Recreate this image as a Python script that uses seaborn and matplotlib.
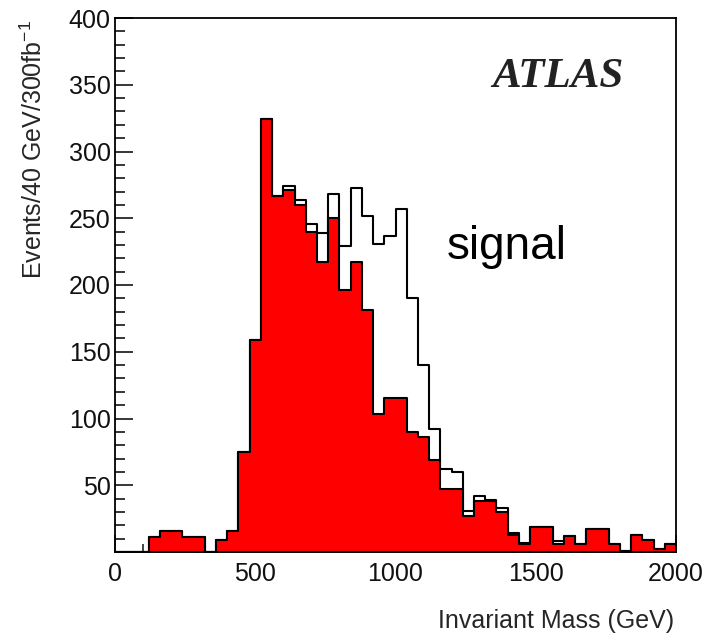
import numpy as np
import pandas as pd
import seaborn as sns
import matplotlib
matplotlib.use("Agg")
import matplotlib.pyplot as plt
from matplotlib.ticker import MultipleLocator, FixedLocator

# ---- data (events per 40 GeV bin, 0-2000 GeV) ----
bin_width = 40
x_min, x_max = 0, 2000
background = [0, 0, 0, 11, 16, 16, 11, 11, 0, 9,
              16, 75, 159, 324, 267, 271, 260, 240, 217, 250,
              196, 217, 181, 103, 115, 115, 90, 86, 69, 47,
              47, 27, 38, 38, 30, 13, 6, 19, 19, 6,
              12, 6, 17, 17, 6, 1, 13, 9, 2, 6]
total = [0, 0, 0, 11, 16, 16, 11, 11, 0, 9,
         16, 75, 159, 324, 267, 274, 264, 246, 239, 268,
         229, 273, 252, 231, 237, 257, 190, 140, 92, 62,
         60, 31, 42, 39, 33, 14, 7, 19, 19, 8,
         12, 6, 17, 17, 6, 1, 13, 9, 2, 6]
y_ticks = [50, 100, 150, 200, 250, 300, 350, 400]
x_ticks = [0, 500, 1000, 1500, 2000]

edges = list(range(x_min, x_max + bin_width, bin_width))
centers = [(a + b) / 2 for a, b in zip(edges[:-1], edges[1:])]
df = pd.DataFrame({"mass": centers, "background": background, "total": total})

sns.set_style("ticks")
plt.rcParams["font.family"] = ["Liberation Sans", "DejaVu Sans"]
plt.rcParams["mathtext.fontset"] = "custom"
plt.rcParams["mathtext.rm"] = "Liberation Sans"
plt.rcParams["mathtext.default"] = "regular"

fig = plt.figure(figsize=(7.06, 6.38), dpi=100)
ax = fig.add_axes([115 / 706, 1 - 552 / 638, (676 - 115) / 706, (552 - 18) / 638])

sns.histplot(data=df, x="mass", weights="total", bins=edges, element="step",
             fill=False, color="black", linewidth=1.5, ax=ax, zorder=2)
sns.histplot(data=df, x="mass", weights="background", bins=edges, element="step",
             fill=True, facecolor="#ff0000", edgecolor="black", alpha=1,
             linewidth=1.5, ax=ax, zorder=3)

ax.set_xlim(x_min, x_max)
ax.set_ylim(0, 400)
ax.set_axisbelow(True)

ax.xaxis.set_major_locator(FixedLocator(x_ticks))
ax.xaxis.set_minor_locator(MultipleLocator(100))
ax.yaxis.set_major_locator(FixedLocator(y_ticks))
ax.yaxis.set_minor_locator(MultipleLocator(10))

ax.tick_params(axis="y", which="major", direction="in", length=13, width=1.3,
               labelsize=18, pad=3, right=False)
ax.tick_params(axis="y", which="minor", direction="in", length=7, width=1.3, right=False)
ax.tick_params(axis="x", which="major", direction="in", length=12, width=1.2,
               labelsize=18, pad=7, top=False)
ax.tick_params(axis="x", which="minor", direction="in", length=6, width=1.2, top=False)
for t in ax.get_xticklabels() + ax.get_yticklabels():
    t.set_color("#111111")

for s in ax.spines.values():
    s.set_visible(True)
    s.set_linewidth(1.3)
    s.set_color("black")
    s.set_zorder(5)

ax.set_xlabel("Invariant Mass (GeV)", fontsize=18, loc="right")
ax.xaxis.label.set_va("baseline")
ax.xaxis.set_label_coords((674 - 115) / 561, (552 - 628) / 534)

ax.set_ylabel("Events/40 GeV/300fb$^{-1}$", fontsize=18, loc="top")
ax.yaxis.label.set_va("baseline")
ax.yaxis.set_label_coords((42 - 115) / 561, (552 - 20) / 534)

ax.text((447 - 115) / 561, (552 - 259) / 534, "signal", transform=ax.transAxes,
        fontsize=33, ha="left", va="baseline", color="black")
ax.text((492 - 115) / 561, (552 - 87) / 534, "ATLAS", transform=ax.transAxes,
        fontsize=31, ha="left", va="baseline", family="Liberation Serif",
        fontweight="bold", fontstyle="italic", color="#222222")

fig.savefig("out.png", dpi=100)
